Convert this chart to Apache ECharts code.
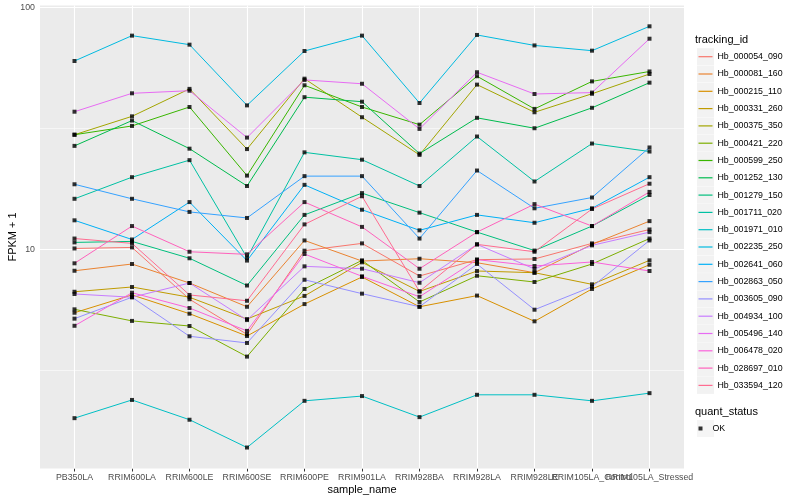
<!DOCTYPE html>
<html><head><meta charset="utf-8">
<script src="https://cdn.jsdelivr.net/npm/echarts@6/dist/echarts.min.js"></script>
<style>html,body{margin:0;padding:0;background:#fff}#c{width:800px;height:500px}</style>
</head><body><div id="c"></div>
<script>
const categories = ['PB350LA','RRIM600LA','RRIM600LE','RRIM600SE','RRIM600PE','RRIM901LA','RRIM928BA','RRIM928LA','RRIM928LE','RRIM105LA_Control','RRIM105LA_Stressed'];
const trackingIds = ['Hb_000054_090','Hb_000081_160','Hb_000215_110','Hb_000331_260','Hb_000375_350','Hb_000421_220','Hb_000599_250','Hb_001252_130','Hb_001279_150','Hb_001711_020','Hb_001971_010','Hb_002235_250','Hb_002641_060','Hb_002863_050','Hb_003605_090','Hb_004934_100','Hb_005496_140','Hb_006478_020','Hb_028697_010','Hb_033594_120'];
const colors = ['#F8766D','#EA8331','#D89000','#C09B00','#A3A500','#7CAE00','#39B600','#00BB4E','#00BF7D','#00C1A3','#00BFC4','#00BAE0','#00B0F6','#35A2FF','#9590FF','#C77CFF','#E76BF3','#FA62DB','#FF62BC','#FF6C91'];
const yTickValues = [10, 100];
const yMinorValues = [3.1623, 31.623];

const Hb_000054_090 = [10.1, 10.2, 6.23, 4.46, 9.89, 10.6, 7.77, 9.08, 9.14, 10.6, 12.1];
const Hb_000081_160 = [8.17, 8.71, 7.27, 5.80, 10.9, 8.96, 9.16, 8.82, 8.02, 10.5, 13.1];
const Hb_000215_110 = [5.48, 6.49, 5.43, 4.39, 5.95, 7.70, 5.80, 6.45, 5.05, 6.87, 8.65];
const Hb_000331_260 = [6.69, 7.00, 6.35, 5.16, 6.43, 8.85, 6.71, 8.15, 8.02, 7.18, 9.02];
const Hb_000375_350 = [29.8, 35.5, 46.1, 26.0, 50.8, 35.2, 24.6, 48.0, 36.9, 44.0, 53.1];
const Hb_000421_220 = [5.66, 5.07, 4.83, 3.61, 6.87, 9.02, 6.07, 7.79, 7.34, 8.71, 11.1];
const Hb_000599_250 = [29.8, 32.4, 38.8, 20.2, 47.7, 38.8, 32.8, 52.0, 38.1, 49.5, 54.4];
const Hb_001252_130 = [26.8, 34.1, 26.1, 18.3, 42.6, 40.8, 24.9, 35.0, 31.7, 38.5, 48.9];
const Hb_001279_150 = [10.7, 10.8, 9.2, 7.1, 13.9, 17.1, 14.2, 11.8, 9.9, 12.5, 16.8];
const Hb_001711_020 = [16.2, 19.9, 23.4, 9.25, 25.2, 23.5, 18.3, 29.3, 19.1, 27.4, 25.4];
const Hb_001971_010 = [2.01, 2.39, 1.98, 1.52, 2.37, 2.48, 2.03, 2.51, 2.51, 2.37, 2.55];
const Hb_002235_250 = [60.1, 76.5, 70.2, 39.4, 66.1, 76.5, 40.3, 77.0, 69.7, 66.3, 83.6];
const Hb_002641_060 = [13.2, 11.0, 15.7, 9.0, 18.5, 14.6, 12.0, 13.9, 12.9, 14.8, 19.9];
const Hb_002863_050 = [18.6, 16.2, 14.3, 13.5, 20.1, 20.1, 11.1, 21.2, 14.8, 16.4, 26.4];
const Hb_003605_090 = [5.18, 6.35, 4.38, 4.11, 7.50, 6.57, 5.80, 8.71, 5.64, 7.02, 10.9];
const Hb_004934_100 = [6.55, 6.35, 7.27, 5.11, 8.52, 8.33, 7.29, 10.5, 8.31, 10.4, 11.8];
const Hb_005496_140 = [37.1, 44.2, 45.3, 29.0, 50.2, 48.4, 31.5, 54.0, 43.9, 44.5, 74.3];
const Hb_006478_020 = [4.84, 6.63, 5.73, 4.61, 9.58, 7.75, 6.38, 9.08, 8.55, 8.88, 8.15];
const Hb_028697_010 = [8.77, 12.5, 9.79, 9.55, 15.7, 12.4, 8.33, 11.8, 15.4, 12.5, 17.3];
const Hb_033594_120 = [11.1, 10.6, 6.49, 6.14, 12.7, 16.6, 6.71, 10.5, 9.79, 14.7, 18.7];

const values = [Hb_000054_090, Hb_000081_160, Hb_000215_110, Hb_000331_260, Hb_000375_350, Hb_000421_220, Hb_000599_250, Hb_001252_130, Hb_001279_150, Hb_001711_020, Hb_001971_010, Hb_002235_250, Hb_002641_060, Hb_002863_050, Hb_003605_090, Hb_004934_100, Hb_005496_140, Hb_006478_020, Hb_028697_010, Hb_033594_120];

const FONT = 'Liberation Sans, Arial, sans-serif';
const chart = echarts.init(document.getElementById('c'), null, {renderer: 'canvas'});

const lineSeries = trackingIds.map((id, i) => ({
  name: id, type: 'line', z: 2, silent: true, showSymbol: false, symbol: 'none',
  data: values[i].map((v, j) => [j, v]),
  lineStyle: {width: 1, color: colors[i]}, itemStyle: {color: colors[i]}
}));

// white panel grid lines, drawn beneath the data lines
lineSeries[0].markLine = {
  silent: true, z: 1, symbol: ['none', 'none'], animation: false, label: {show: false},
  data: [].concat(
    yMinorValues.map(v => ({yAxis: v, lineStyle: {color: '#fff', width: 0.55, type: 'solid'}})),
    yTickValues.map(v => ({yAxis: v, lineStyle: {color: '#fff', width: 1.1, type: 'solid'}})),
    categories.map((c, i) => ({xAxis: i, lineStyle: {color: '#fff', width: 1.1, type: 'solid'}}))
  )
};

const pointData = [];
values.forEach(arr => arr.forEach((v, j) => pointData.push([j, v])));
const pointSeries = {
  name: 'OK', type: 'scatter', z: 3, silent: true, symbol: 'rect', symbolSize: [4, 4],
  itemStyle: {color: '#000'}, data: pointData
};

const legendText = {fontFamily: FONT, fontSize: 8.8, color: '#000', lineHeight: 17};
const axisLabelStyle = {fontFamily: FONT, fontSize: 8.8, color: '#4D4D4D', margin: 5};
const tickStyle = {show: true, length: 3, lineStyle: {color: '#333', width: 1}};
const evenIdx = categories.map((c, i) => i).filter(i => i % 2 === 0);
const oddIdx = categories.map((c, i) => i).filter(i => i % 2 === 1);

function xAxisFor(idx, withName) {
  const ax = {
    type: 'value', min: -0.6, max: 10.6, position: 'bottom', offset: 0,
    axisLine: {show: false},
    axisTick: Object.assign({customValues: idx}, tickStyle),
    axisLabel: Object.assign({customValues: idx, hideOverlap: false, formatter: v => categories[Math.round(v)] || ''}, axisLabelStyle),
    splitLine: {show: false}
  };
  if (withName) {
    ax.name = 'sample_name'; ax.nameLocation = 'middle'; ax.nameGap = 15.5; ax.nameMoveOverlap = false;
    ax.nameTextStyle = {fontFamily: FONT, fontSize: 11, color: '#000'};
  }
  return ax;
}

chart.setOption({
  animation: false,
  backgroundColor: '#fff',
  grid: {left: 40, right: 116, top: 5.4, bottom: 31.5, containLabel: false, outerBoundsMode: 'none', show: true, backgroundColor: '#EBEBEB', borderWidth: 0},
  title: [
    {text: 'tracking_id', left: 695, top: 34.5, textStyle: {fontFamily: FONT, fontSize: 11, fontWeight: 'normal', color: '#000'}, padding: 0},
    {text: 'quant_status', left: 695, top: 406, textStyle: {fontFamily: FONT, fontSize: 11, fontWeight: 'normal', color: '#000'}, padding: 0}
  ],
  xAxis: [xAxisFor(evenIdx, true), xAxisFor(oddIdx, false)],
  yAxis: {
    type: 'log', logBase: 10, min: 1.245, max: 102,
    name: 'FPKM + 1', nameLocation: 'middle', nameGap: 22, nameRotate: 90, nameMoveOverlap: false,
    nameTextStyle: {fontFamily: FONT, fontSize: 11, color: '#000'},
    axisLine: {show: false},
    axisTick: Object.assign({customValues: yTickValues}, tickStyle),
    axisLabel: Object.assign({customValues: yTickValues, hideOverlap: false, formatter: v => String(Math.round(v))}, axisLabelStyle),
    splitLine: {show: false}, minorSplitLine: {show: false}
  },
  legend: [
    {orient: 'vertical', left: 697, top: 48.2, padding: 0, itemWidth: 17, itemHeight: 17, itemGap: 0.3, z: 1,
     selectedMode: false, icon: 'rect',
     data: trackingIds.map(id => ({name: id, itemStyle: {color: '#F2F2F2'}})),
     textStyle: Object.assign({}, legendText, {color: 'rgba(0,0,0,0)'})},
    {orient: 'vertical', left: 698.5, top: 48.2, padding: 0, itemWidth: 14, itemHeight: 1.2, itemGap: 0.3, z: 2,
     selectedMode: false, icon: 'rect',
     data: trackingIds.map(id => ({name: id})),
     textStyle: legendText},
    {orient: 'vertical', left: 697, top: 420, padding: 0, itemWidth: 17, itemHeight: 17, z: 1,
     selectedMode: false, icon: 'rect',
     data: [{name: 'OK', itemStyle: {color: '#F2F2F2'}}],
     textStyle: Object.assign({}, legendText, {color: 'rgba(0,0,0,0)'})},
    {orient: 'vertical', left: 698.5, top: 420, padding: 0, itemWidth: 14, itemHeight: 4, z: 2,
     selectedMode: false, icon: 'path://M0,0h1v1h-1z', symbolKeepAspect: true,
     data: [{name: 'OK'}],
     textStyle: legendText}
  ],
  series: lineSeries.concat([pointSeries])
});
</script>
</body></html>
